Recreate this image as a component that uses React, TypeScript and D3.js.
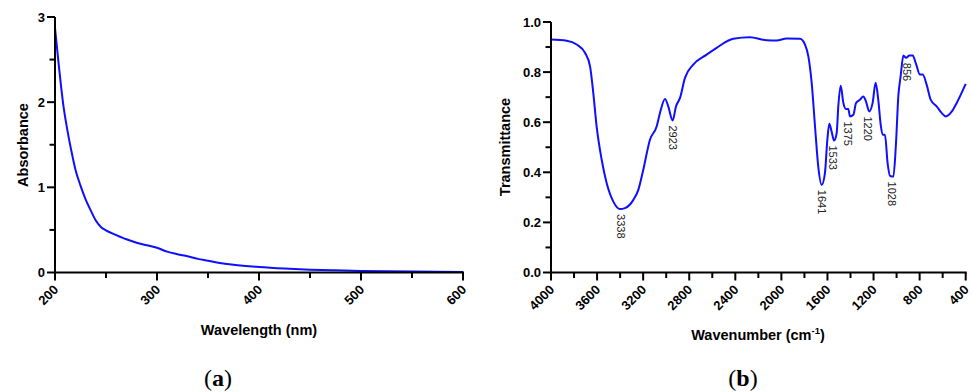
import React, { useEffect } from "react";
import * as d3 from "d3";

// UV-Vis spectrum (panel a)
const uvWavelength = [
  200, 204, 208, 212, 216, 220, 225, 230, 235, 240, 245, 250, 260, 270, 280,
  290, 300, 310, 320, 330, 340, 350, 360, 375, 400, 425, 450, 475, 500, 550, 600,
];
const uvAbsorbance = [
  2.87, 2.4, 1.98, 1.68, 1.43, 1.21, 1.02, 0.86, 0.73, 0.61, 0.535, 0.495, 0.44,
  0.39, 0.35, 0.32, 0.29, 0.245, 0.215, 0.19, 0.16, 0.138, 0.115, 0.09, 0.064,
  0.046, 0.033, 0.025, 0.019, 0.011, 0.006,
];
const uvXTicks = [200, 300, 400, 500, 600];
const uvXMinor = [250, 350, 450, 550];
const uvYTicks = [0, 1, 2, 3];
const uvYMinor = [0.5, 1.5, 2.5];

// FTIR spectrum (panel b)
const irWavenumber = [
  4000, 3864, 3777, 3705, 3661, 3633, 3604, 3560, 3517, 3459, 3401, 3358, 3285,
  3242, 3199, 3141, 3083, 3054, 3010, 2982, 2944, 2915, 2880, 2837, 2765, 2649,
  2562, 2417, 2273, 2128, 2041, 1954, 1839, 1795, 1766, 1737, 1708, 1680, 1650,
  1622, 1601, 1584, 1564, 1543, 1520, 1506, 1485, 1462, 1439, 1419, 1405, 1375,
  1352, 1318, 1289, 1266, 1237, 1208, 1182, 1159, 1138, 1121, 1101, 1078, 1057,
  1028, 1005, 985, 965, 941, 918, 889, 860, 832, 797, 774, 739, 704, 652, 609,
  571, 522, 478, 400,
];
const irTransmittance = [
  0.93, 0.925, 0.91, 0.877, 0.823, 0.717, 0.583, 0.45, 0.357, 0.283, 0.253,
  0.257, 0.29, 0.33, 0.41, 0.53, 0.583, 0.637, 0.693, 0.663, 0.607, 0.663, 0.697,
  0.777, 0.83, 0.87, 0.897, 0.933, 0.939, 0.927, 0.926, 0.934, 0.933, 0.91,
  0.863, 0.757, 0.583, 0.423, 0.35, 0.397, 0.53, 0.594, 0.563, 0.527, 0.557,
  0.663, 0.746, 0.677, 0.653, 0.653, 0.623, 0.63, 0.677, 0.69, 0.703, 0.683,
  0.643, 0.677, 0.757, 0.69, 0.59, 0.55, 0.55, 0.437, 0.386, 0.383, 0.517, 0.703,
  0.783, 0.866, 0.857, 0.866, 0.866, 0.834, 0.79, 0.79, 0.75, 0.69, 0.663, 0.637,
  0.623, 0.642, 0.677, 0.753,
];
const irXTicks = [4000, 3600, 3200, 2800, 2400, 2000, 1600, 1200, 800, 400];
const irXMinor = [3800, 3400, 3000, 2600, 2200, 1800, 1400, 1000, 600];
const irYTicks = [0, 0.2, 0.4, 0.6, 0.8, 1.0];
const irYMinor = [0.1, 0.3, 0.5, 0.7, 0.9];

const peakLabels = ["3338", "2923", "1641", "1533", "1375", "1220", "1028", "856"];
const peakPositions = [3392, 2944, 1650, 1549, 1419, 1246, 1043, 907];
const peakDepths = [0.253, 0.607, 0.35, 0.527, 0.623, 0.643, 0.383, 0.857];

const SANS = "'Liberation Sans', Arial, sans-serif";
const BLUE = "#0f0fff";

type Scale = d3.ScaleLinear<number, number>;

function Axes({
  x,
  y,
  xTicks,
  xMinor,
  yTicks,
  yMinor,
  yFormat,
}: {
  x: Scale;
  y: Scale;
  xTicks: number[];
  xMinor: number[];
  yTicks: number[];
  yMinor: number[];
  yFormat: (v: number) => string;
}) {
  const [x0, x1] = x.range();
  const [y0, y1] = y.range();
  return (
    <g stroke="#000" strokeWidth={2} fill="none">
      <line x1={x0} x2={x0} y1={y0 + 1} y2={y1} />
      <line x1={x0 - 1} x2={x1 + 1} y1={y0} y2={y0} />
      {xTicks.map((t) => (
        <line key={"xt" + t} x1={x(t)} x2={x(t)} y1={y0} y2={y0 + 8} />
      ))}
      {xMinor.map((t) => (
        <line key={"xm" + t} x1={x(t)} x2={x(t)} y1={y0} y2={y0 + 5.5} />
      ))}
      {yTicks.map((t) => (
        <line key={"yt" + t} x1={x0 - 8} x2={x0} y1={y(t)} y2={y(t)} />
      ))}
      {yMinor.map((t) => (
        <line key={"ym" + t} x1={x0 - 5.5} x2={x0} y1={y(t)} y2={y(t)} />
      ))}
      <g stroke="none" fill="#000" fontFamily={SANS} fontWeight="bold" fontSize={13}>
        {xTicks.map((t) => (
          <text
            key={"xl" + t}
            textAnchor="end"
            transform={`translate(${x(t) + 4},${y0 + 18}) rotate(-45)`}
          >
            {t}
          </text>
        ))}
        {yTicks.map((t) => (
          <text key={"yl" + t} x={x0 - 10} y={y(t)} dy="0.36em" textAnchor="end">
            {yFormat(t)}
          </text>
        ))}
      </g>
    </g>
  );
}

export default function App() {
  useEffect(() => {
    document.body.style.margin = "0";
  }, []);

  const uvX = d3.scaleLinear().domain([200, 600]).range([55, 463]);
  const uvY = d3.scaleLinear().domain([0, 3]).range([272.5, 17]);
  const irX = d3.scaleLinear().domain([4000, 400]).range([551, 965.7]);
  const irY = d3.scaleLinear().domain([0, 1]).range([272.5, 22]);

  const uvLine = d3
    .line<number>()
    .x((d) => uvX(d))
    .y((_, i) => uvY(uvAbsorbance[i]))
    .curve(d3.curveMonotoneX);
  const irLine = d3
    .line<number>()
    .x((d) => irX(d))
    .y((_, i) => irY(irTransmittance[i]))
    .curve(d3.curveMonotoneX);

  return (
    <svg
      width={972}
      height={392}
      style={{ display: "block", position: "absolute", left: 0, top: 0, background: "#fff" }}
    >
      {/* panel a */}
      <path d={uvLine(uvWavelength) ?? ""} fill="none" stroke={BLUE} strokeWidth={2} />
      <Axes
        x={uvX}
        y={uvY}
        xTicks={uvXTicks}
        xMinor={uvXMinor}
        yTicks={uvYTicks}
        yMinor={uvYMinor}
        yFormat={d3.format("d")}
      />
      <text
        transform="translate(28,145) rotate(-90)"
        textAnchor="middle"
        fontFamily={SANS}
        fontWeight="bold"
        fontSize={14.5}
      >
        Absorbance
      </text>
      <text x={259} y={335} textAnchor="middle" fontFamily={SANS} fontWeight="bold" fontSize={14.5}>
        Wavelength (nm)
      </text>

      {/* panel b */}
      <path d={irLine(irWavenumber) ?? ""} fill="none" stroke={BLUE} strokeWidth={2} />
      <Axes
        x={irX}
        y={irY}
        xTicks={irXTicks}
        xMinor={irXMinor}
        yTicks={irYTicks}
        yMinor={irYMinor}
        yFormat={d3.format(".1f")}
      />
      <g fontFamily={SANS} fontSize={11} fill="#222">
        {peakLabels.map((p, i) => (
          <text
            key={p}
            transform={`translate(${irX(peakPositions[i])},${irY(peakDepths[i]) + 5}) rotate(90)`}
            dy="0.35em"
          >
            {p}
          </text>
        ))}
      </g>
      <text
        transform="translate(510,147) rotate(-90)"
        textAnchor="middle"
        fontFamily={SANS}
        fontWeight="bold"
        fontSize={14.5}
      >
        Transmittance
      </text>
      <text x={758} y={340} textAnchor="middle" fontFamily={SANS} fontWeight="bold" fontSize={14.5}>
        Wavenumber (cm
        <tspan fontSize={9.5} dy={-6}>
          -1
        </tspan>
        <tspan dy={6}>)</tspan>
      </text>

      {/* captions */}
      <g fontFamily="'Liberation Serif', 'DejaVu Serif', serif" fontSize={24}>
        <text x={218} y={386} textAnchor="middle">
          (<tspan fontWeight="bold">a</tspan>)
        </text>
        <text x={743} y={386} textAnchor="middle">
          (<tspan fontWeight="bold">b</tspan>)
        </text>
      </g>
    </svg>
  );
}
